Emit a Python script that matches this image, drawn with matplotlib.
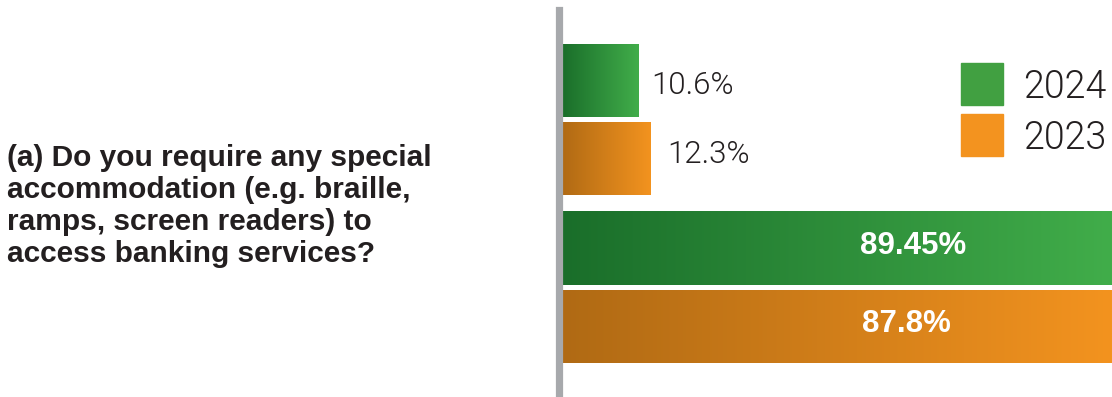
import numpy as np
import matplotlib
matplotlib.use('Agg')
import matplotlib.pyplot as plt
from matplotlib.colors import LinearSegmentedColormap
from matplotlib.patches import Rectangle

# Data
question = "(a) Do you require any special\naccommodation (e.g. braille,\nramps, screen readers) to\naccess banking services?"
answers = ['Yes', 'No']
years = ['2024', '2023']
vals_2024 = [10.6, 89.45]
vals_2023 = [12.3, 87.8]
labels_2024 = ['10.6%', '89.45%']
labels_2023 = ['12.3%', '87.8%']

green_cm = LinearSegmentedColormap.from_list('g', ['#1a6e2a', '#41ad4a'])
orange_cm = LinearSegmentedColormap.from_list('o', ['#b06a14', '#f3931f'])
legend_cols = ['#41a041', '#f3931f']
txt_col = '#231f20'
BOLD = 'Liberation Sans'
LIGHT = 'Roboto'

W, H = 1112, 397
fig = plt.figure(figsize=(W / 100, H / 100), dpi=100)
ax = fig.add_axes([558.5 / W, 2 / H, 1 - 558.5 / W, 385 / H])

px = 7.2  # pixels per percent
xmin = -3.5 / px
xmax = (W - 562) / px

bar_h = 73 / 168
off = 39 / 168
grad = np.linspace(0, 1, 256).reshape(1, -1)

for i, a in enumerate(answers):
    for vals, labs, cm, sgn in [(vals_2024, labels_2024, green_cm, -1),
                                (vals_2023, labels_2023, orange_cm, 1)]:
        v = vals[i]
        yc = i + sgn * off
        right = min(v, xmax)
        ax.imshow(grad, cmap=cm, aspect='auto', interpolation='bilinear',
                  extent=[0, right, yc + bar_h / 2, yc - bar_h / 2], zorder=2)
        if v < 30:
            # small labels sit a little towards the middle of the pair
            ax.text(v + (13 + 2 * (sgn + 1)) / px, yc - sgn * 4.5 / 168, labs[i],
                    ha='left', va='center', fontsize=22.5, color=txt_col,
                    family=LIGHT, fontweight=300)
        else:
            ax.text(v * 0.545, yc - 0.02, labs[i], ha='center', va='center',
                    fontsize=22.5, color='white', fontweight='bold', family=BOLD)

ax.set_xlim(xmin, xmax)
ax.set_ylim(1 + 107 / 168, -110 / 168)
for s in ['top', 'right', 'bottom']:
    ax.spines[s].set_visible(False)
ax.spines['left'].set_color('#a7a9ac')
ax.spines['left'].set_linewidth(5.2)
ax.spines['left'].set_position(('data', xmin))
ax.set_xticks([])
ax.set_yticks([])

# Question text
fig.text(7 / W, 1 - 206 / H, question, ha='left', va='center', fontsize=21.5,
         fontweight='bold', color=txt_col, family=BOLD, linespacing=1.17)

# Legend
for k, (yr, c) in enumerate(zip(years, legend_cols)):
    top = 63 + k * 51
    fig.add_artist(Rectangle((961 / W, 1 - (top + 42) / H), 42 / W, 42 / H,
                             transform=fig.transFigure, color=c))
    fig.text(1023 / W, 1 - (top + 24) / H, yr, ha='left', va='center',
             fontsize=27, color=txt_col, family=LIGHT, fontweight=300)

fig.savefig('out.png', dpi=100)
